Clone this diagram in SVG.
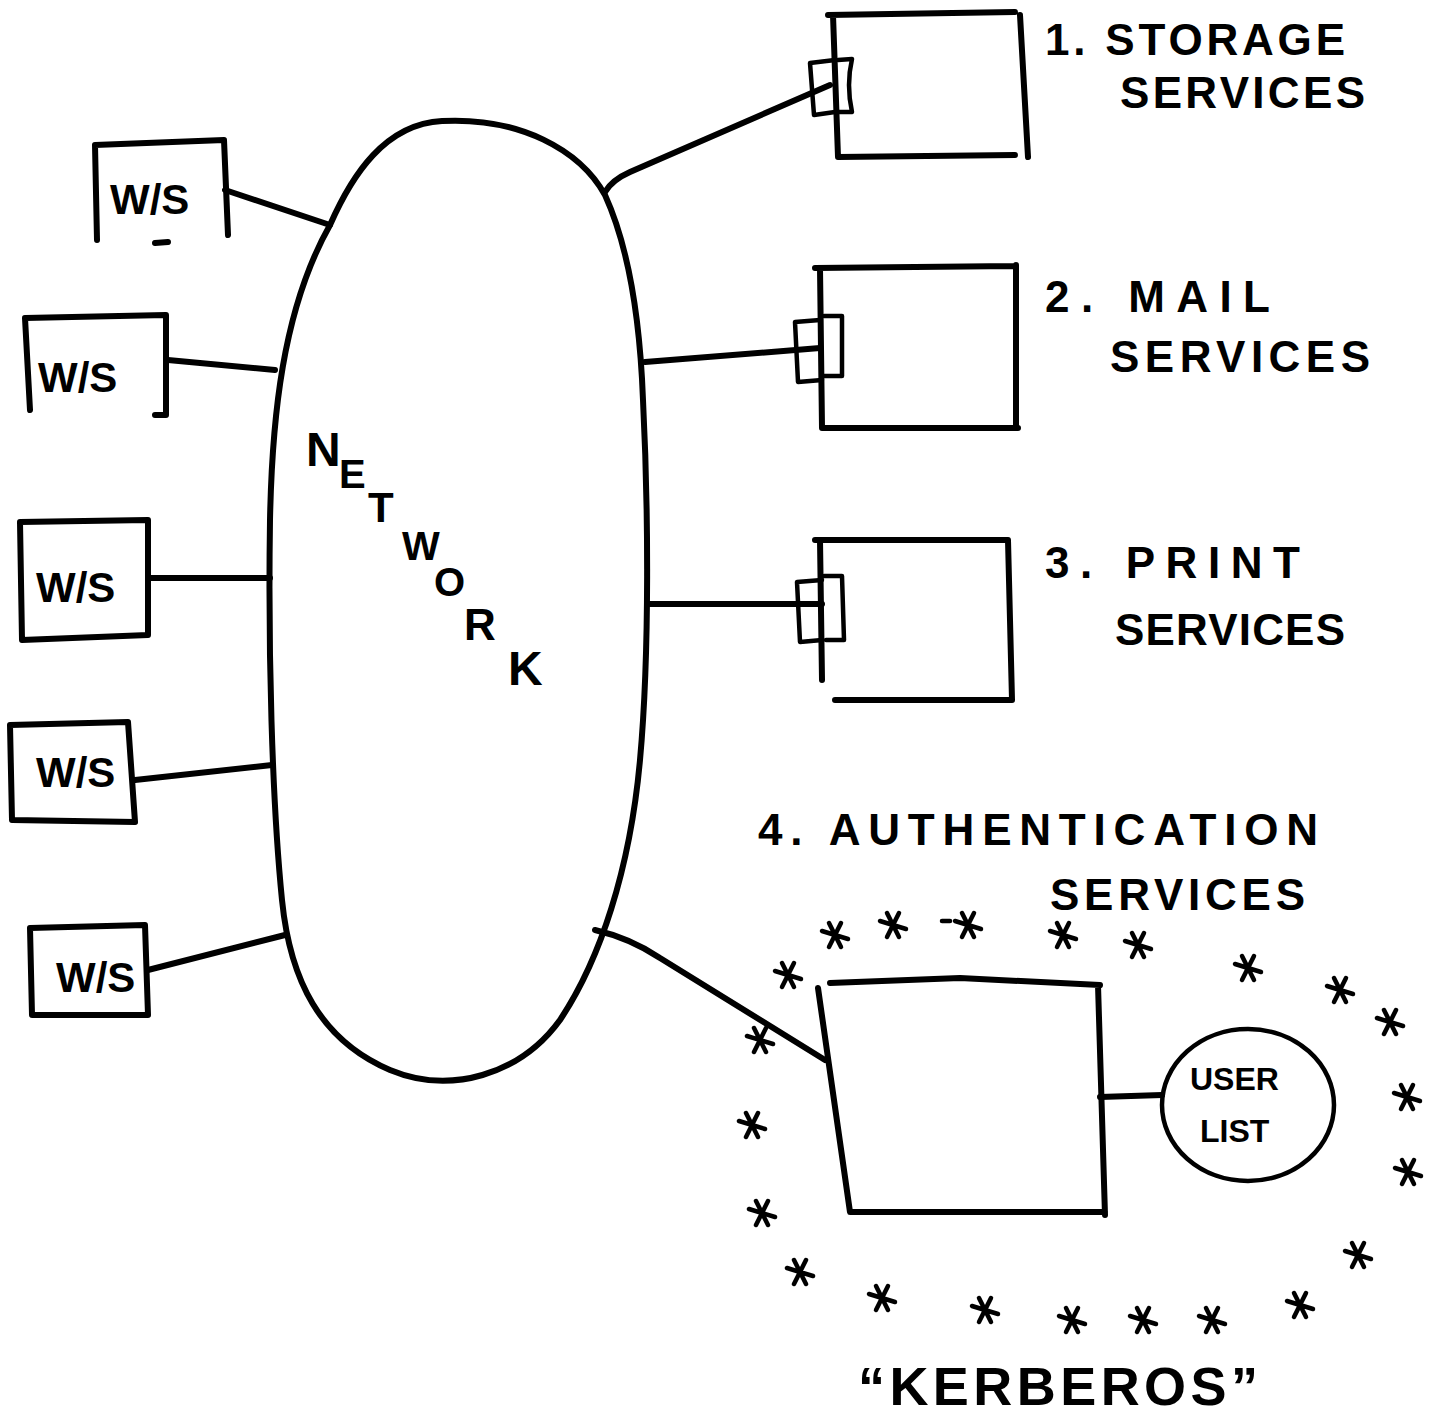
<svg xmlns="http://www.w3.org/2000/svg" width="1442" height="1425" viewBox="0 0 1442 1425">
<style>
.ln{fill:none;stroke:#000;stroke-width:6;stroke-linecap:round;stroke-linejoin:round}
.thin{fill:none;stroke:#000;stroke-width:4.5;stroke-linecap:round;stroke-linejoin:round}
.t{font-family:"Liberation Sans","DejaVu Sans",sans-serif;font-weight:bold;fill:#000}
.big{font-size:44px}
.ws{font-size:42px}
</style>
<defs>
<g id="star"><path class="thin" d="M-13,-4 L13,4 M-6,12 L6,-12 M6,12 L-6,-12"/></g>
</defs>
<rect width="1442" height="1425" fill="#fff"/>

<g id="connectors">
<path class="ln" d="M225,190 L330,225"/>
<path class="ln" d="M168,360 L275,370"/>
<path class="ln" d="M148,578 L270,578"/>
<path class="ln" d="M135,780 L272,765"/>
<path class="ln" d="M148,970 L285,935"/>
<path class="ln" d="M605,192 Q612,180 630,172 L830,85"/>
<path class="ln" d="M645,362 L820,348"/>
<path class="ln" d="M648,604 L822,604"/>
<path class="ln" d="M595,930 Q630,938 660,958 L825,1060"/>
<path class="ln" d="M1100,1097 L1162,1095"/>
</g>

<g id="network">
<path class="ln" d="M330,225 C352,175 385,124 442,121 C520,117 580,150 605,195 C630,250 640,320 643,400 C648,500 650,650 640,760 C630,870 600,960 560,1020 C520,1075 450,1095 390,1070 C320,1040 290,980 282,900 C272,800 268,650 270,520 C272,420 282,310 330,225 Z"/>
<text class="t" font-size="48" x="306" y="466">N</text>
<text class="t" font-size="40" x="339" y="488">E</text>
<text class="t" font-size="42" x="368" y="522">T</text>
<text class="t" font-size="40" x="402" y="560">W</text>
<text class="t" font-size="40" x="434" y="596">O</text>
<text class="t" font-size="44" x="464" y="640">R</text>
<text class="t" font-size="48" x="508" y="685">K</text>
</g>

<g id="ws1">
<path class="ln" d="M97,240 L95,145 L224,140 L228,235 M155,243 L168,242"/>
<text class="t ws" x="110" y="214">W/S</text>
</g>
<g id="ws2">
<path class="ln" d="M30,410 L25,318 L166,315 L166,415 L155,415"/>
<text class="t ws" x="38" y="392">W/S</text>
</g>
<g id="ws3">
<path class="ln" d="M20,522 L148,520 L148,635 L22,640 Z"/>
<text class="t ws" x="36" y="602">W/S</text>
</g>
<g id="ws4">
<path class="ln" d="M10,725 L128,722 L135,822 L12,820 Z"/>
<text class="t ws" x="36" y="787">W/S</text>
</g>
<g id="ws5">
<path class="ln" d="M30,928 L145,925 L148,1015 L32,1015 Z"/>
<text class="t ws" x="56" y="992">W/S</text>
</g>

<g id="storage">
<path class="ln" d="M828,15 L1015,12 M833,15 L838,157 L1015,155 M1020,15 L1028,157"/>
<path class="thin" d="M835,60 L810,63 L814,115 L835,112 M838,60 L852,59 Q846,85 852,112 L838,112"/>
<text class="t big" x="1045" y="55" textLength="300">1. STORAGE</text>
<text class="t big" x="1120" y="108" textLength="245">SERVICES</text>
</g>

<g id="mail">
<path class="ln" d="M815,268 L1015,266 M820,268 L822,428 L1018,428 M1016,265 L1016,428"/>
<path class="thin" d="M820,320 L795,322 L798,382 L822,380 M824,316 L842,316 L842,376 L824,376"/>
<text class="t big" x="1045" y="312" textLength="225">2. MAIL</text>
<text class="t big" x="1110" y="372" textLength="260">SERVICES</text>
</g>

<g id="print">
<path class="ln" d="M815,540 L1007,540 M820,540 L822,680 M835,700 L1012,700 M1008,540 L1012,700"/>
<path class="thin" d="M822,580 L797,582 L800,642 L822,640 M824,576 L842,576 L844,640 L826,640"/>
<text class="t big" x="1045" y="578" textLength="255">3. PRINT</text>
<text class="t big" x="1115" y="645" textLength="230">SERVICES</text>
</g>

<g id="auth">
<path class="ln" d="M830,983 L960,978 L1100,985 M818,988 L850,1212 L1105,1212 M1098,985 L1105,1215"/>
<text class="t big" x="758" y="845" textLength="560">4. AUTHENTICATION</text>
<text class="t big" x="1050" y="910" textLength="255">SERVICES</text>
</g>

<g id="userlist">
<ellipse class="thin" cx="1248" cy="1105" rx="86" ry="76"/>
<text class="t" font-size="32" x="1190" y="1090">USER</text>
<text class="t" font-size="32" x="1200" y="1142">LIST</text>
</g>

<g id="stars">
<use href="#star" x="835" y="935"/>
<use href="#star" x="893" y="925"/>
<path class="thin" d="M942,921 L950,921"/>
<use href="#star" x="968" y="925"/>
<use href="#star" x="1063" y="935"/>
<use href="#star" x="1138" y="945"/>
<use href="#star" x="1248" y="968"/>
<use href="#star" x="1340" y="990"/>
<use href="#star" x="1390" y="1022"/>
<use href="#star" x="1407" y="1097"/>
<use href="#star" x="1408" y="1172"/>
<use href="#star" x="1358" y="1255"/>
<use href="#star" x="1300" y="1305"/>
<use href="#star" x="1212" y="1320"/>
<use href="#star" x="1143" y="1320"/>
<use href="#star" x="1072" y="1320"/>
<use href="#star" x="985" y="1310"/>
<use href="#star" x="882" y="1298"/>
<use href="#star" x="800" y="1272"/>
<use href="#star" x="762" y="1213"/>
<use href="#star" x="752" y="1125"/>
<use href="#star" x="760" y="1040"/>
<use href="#star" x="788" y="975"/>
</g>

<text class="t" font-size="54" x="858" y="1405" textLength="400">“KERBEROS”</text>
</svg>
